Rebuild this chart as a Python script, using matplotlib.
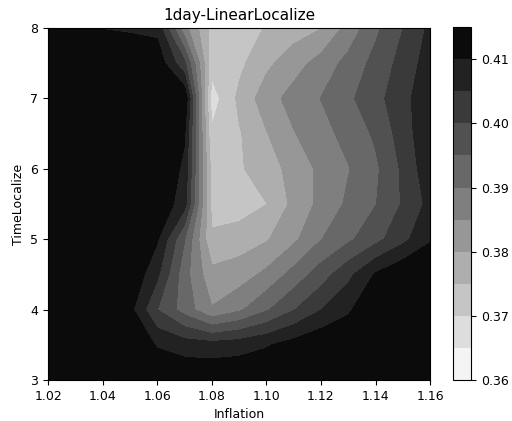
import numpy as np
import matplotlib
matplotlib.use('Agg')
import matplotlib.pyplot as plt

plt.rcParams['font.size'] = 9

# grid: inflation on x, time localization on y
inflation = [1.02, 1.03, 1.04, 1.05, 1.06, 1.07, 1.08, 1.09, 1.10, 1.11, 1.12, 1.13, 1.14, 1.15, 1.16]
time_localize = [3.0, 3.5, 4.0, 4.5, 5.0, 5.5, 6.0, 6.5, 7.0, 7.5, 8.0]

# rmse, one row per time_localize value (bottom to top)
row_30 = [0.4145, 0.4146, 0.4144, 0.4145, 0.4145, 0.4145, 0.4145, 0.4145, 0.4145, 0.4145, 0.4145, 0.4145, 0.4145, 0.4145, 0.4145]
row_35 = [0.4145, 0.4145, 0.4145, 0.4143, 0.4095, 0.4075, 0.4070, 0.4078, 0.4095, 0.4120, 0.4145, 0.4145, 0.4145, 0.4145, 0.4145]
row_40 = [0.4145, 0.4145, 0.4145, 0.4115, 0.4000, 0.3928, 0.3854, 0.3891, 0.3943, 0.3997, 0.4048, 0.4092, 0.4145, 0.4145, 0.4145]
row_45 = [0.4145, 0.4145, 0.4145, 0.4145, 0.4060, 0.3919, 0.3815, 0.3825, 0.3862, 0.3918, 0.3975, 0.4036, 0.4105, 0.4145, 0.4145]
row_50 = [0.4145, 0.4145, 0.4145, 0.4145, 0.4105, 0.3952, 0.3757, 0.3775, 0.3795, 0.3839, 0.3898, 0.3940, 0.3984, 0.4035, 0.4095]
row_55 = [0.4145, 0.4145, 0.4145, 0.4145, 0.4145, 0.4069, 0.3735, 0.3725, 0.3749, 0.3813, 0.3864, 0.3909, 0.3948, 0.4005, 0.4065]
row_60 = [0.4145, 0.4145, 0.4145, 0.4145, 0.4145, 0.4090, 0.3730, 0.3744, 0.3775, 0.3819, 0.3861, 0.3897, 0.3940, 0.4009, 0.4085]
row_65 = [0.4145, 0.4145, 0.4145, 0.4145, 0.4145, 0.4105, 0.3707, 0.3745, 0.3797, 0.3847, 0.3882, 0.3917, 0.3958, 0.4024, 0.4092]
row_70 = [0.4145, 0.4145, 0.4145, 0.4145, 0.4145, 0.4145, 0.3675, 0.3761, 0.3828, 0.3869, 0.3901, 0.3940, 0.3983, 0.4033, 0.4088]
row_75 = [0.4145, 0.4145, 0.4145, 0.4145, 0.4135, 0.4010, 0.3720, 0.3738, 0.3788, 0.3829, 0.3870, 0.3916, 0.3966, 0.4018, 0.4075]
row_80 = [0.4145, 0.4135, 0.4098, 0.4092, 0.4085, 0.3868, 0.3735, 0.3720, 0.3754, 0.3776, 0.3798, 0.3867, 0.3939, 0.3999, 0.4061]

rmse = np.array([row_30, row_35, row_40, row_45, row_50, row_55,
                 row_60, row_65, row_70, row_75, row_80])

levels = [0.360, 0.365, 0.370, 0.375, 0.380, 0.385, 0.390, 0.395, 0.400, 0.405, 0.410, 0.415]
cbar_ticks = [0.36, 0.37, 0.38, 0.39, 0.40, 0.41]

X, Y = np.meshgrid(inflation, time_localize)

fig = plt.figure(figsize=(5.12, 4.21), dpi=100)
ax = fig.add_axes([0.094, 0.0974, 0.746, 0.836])
cs = ax.contourf(X, Y, rmse, levels=levels, cmap='gray_r')
ax.set_title('1day-LinearLocalize', fontsize=11)
ax.set_xlabel('Inflation')
ax.set_ylabel('TimeLocalize')
ax.set_xticks([1.02, 1.04, 1.06, 1.08, 1.10, 1.12, 1.14, 1.16])
ax.set_xticklabels(['1.02', '1.04', '1.06', '1.08', '1.10', '1.12', '1.14', '1.16'])
ax.set_yticks([3, 4, 5, 6, 7, 8])

cax = fig.add_axes([0.885, 0.0974, 0.035, 0.838])
cb = fig.colorbar(cs, cax=cax, ticks=cbar_ticks)
cb.ax.set_yticklabels(['%.2f' % t for t in cbar_ticks])

fig.savefig('out.png', dpi=100)
